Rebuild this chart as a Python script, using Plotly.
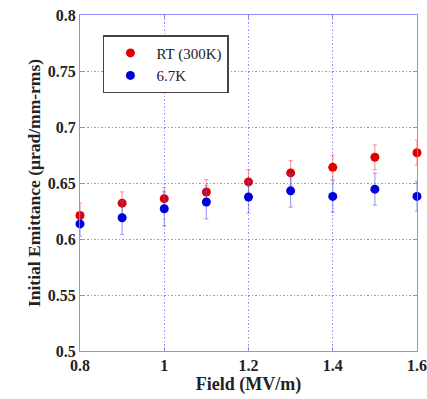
import plotly.graph_objects as go

field = [0.8, 0.9, 1.0, 1.1, 1.2, 1.3, 1.4, 1.5, 1.6]
rt_vals = [0.621, 0.632, 0.636, 0.642, 0.651, 0.659, 0.664, 0.673, 0.677]
rt_err = [0.011, 0.010, 0.010, 0.011, 0.011, 0.011, 0.011, 0.011, 0.011]
cold_vals = [0.6135, 0.619, 0.627, 0.633, 0.6375, 0.643, 0.638, 0.6445, 0.638]
cold_err = [0.011, 0.015, 0.015, 0.015, 0.0145, 0.0146, 0.014, 0.0143, 0.0134]
x_ticks = [0.8, 1.0, 1.2, 1.4, 1.6]
x_tick_labels = ["0.8", "1", "1.2", "1.4", "1.6"]
y_ticks = [0.5, 0.55, 0.6, 0.65, 0.7, 0.75, 0.8]
y_tick_labels = ["0.5", "0.55", "0.6", "0.65", "0.7", "0.75", "0.8"]

font_family = "Liberation Serif, Times New Roman, serif"
grid_col = "rgba(100,100,255,0.7)"
border_col = "rgba(130,130,255,0.9)"

fig = go.Figure()
fig.add_trace(go.Scatter(
    x=field, y=rt_vals, mode="markers", name="RT (300K)", cliponaxis=False,
    marker=dict(color="#e00000", size=9),
    error_y=dict(type="data", array=rt_err, color="rgba(240,80,80,0.55)", thickness=1.2, width=2),
))
fig.add_trace(go.Scatter(
    x=field, y=cold_vals, mode="markers", name="6.7K", cliponaxis=False,
    marker=dict(color="#0000d8", size=9),
    error_y=dict(type="data", array=cold_err, color="rgba(90,90,240,0.55)", thickness=1.2, width=2),
))

axis_common = dict(
    showline=True, linecolor=border_col, linewidth=1, mirror="ticks",
    showgrid=True, gridcolor=grid_col, griddash="1.5px,2px", gridwidth=1.2,
    ticks="inside", ticklen=4, tickcolor=border_col,
    zeroline=False, automargin=False,
    tickfont=dict(family=font_family, size=16, color="#222", weight="bold"),
)

fig.update_xaxes(range=[0.8, 1.6], tickvals=x_ticks, ticktext=x_tick_labels,
                 title=dict(text="Field (MV/m)", font=dict(family=font_family, size=18, color="#222", weight="bold"), standoff=4),
                 **axis_common)
fig.update_yaxes(range=[0.5, 0.8], tickvals=y_ticks, ticktext=y_tick_labels,
                 title=dict(text="Initial Emittance (μrad/mm-rms)", font=dict(family=font_family, size=17.5, color="#222", weight="bold"), standoff=2),
                 **axis_common)

fig.update_layout(
    width=427, height=399,
    margin=dict(l=80, r=10, t=15, b=48),
    paper_bgcolor="white", plot_bgcolor="white",
    showlegend=True,
    legend=dict(x=0.068, y=0.94, xanchor="left", yanchor="top",
                bgcolor="white", bordercolor="#444", borderwidth=1.5,
                font=dict(family=font_family, size=15, color="#222"),
                itemwidth=42, tracegroupgap=0),
)

fig.write_html("out.html", config={"displayModeBar": False},
               post_script="document.body.style.margin='0';document.body.style.overflow='hidden';")
